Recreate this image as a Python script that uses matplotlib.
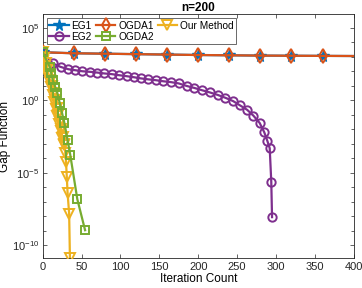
import numpy as np
import matplotlib
matplotlib.use('Agg')
import matplotlib.pyplot as plt

plt.rcParams['font.family'] = ['Liberation Sans', 'DejaVu Sans']

# --- data (log10 of gap function) ---
eg1_iter = [0, 40, 80, 120, 160, 200, 240, 280, 320, 360, 400]
eg1_log = [3.32, 3.25, 3.22, 3.19, 3.16, 3.13, 3.11, 3.09, 3.08, 3.07, 3.06]

ogda1_iter = [0, 40, 80, 120, 160, 200, 240, 280, 320, 360, 400]
ogda1_log = [3.32, 3.25, 3.22, 3.19, 3.16, 3.13, 3.11, 3.09, 3.08, 3.07, 3.06]

eg2_iter = [0, 13, 23, 33, 42, 51, 61, 70, 79, 89, 98, 108, 117, 126, 136,
            146, 155, 165, 175, 185, 195, 205, 215, 225, 235, 245, 254, 263,
            271, 279, 285, 289, 292, 294, 295]
eg2_log = [3.32, 2.55, 2.31, 2.15, 2.08, 2.01, 1.97, 1.92, 1.86, 1.81, 1.74,
           1.67, 1.60, 1.52, 1.45, 1.39, 1.32, 1.26, 1.17, 1.00, 0.86, 0.70,
           0.55, 0.38, 0.18, -0.05, -0.35, -0.65, -1.05, -1.55, -2.2, -2.8,
           -3.3, -5.6, -8.05]

ogda2_iter = [0, 9, 11, 13, 16, 19, 22, 25, 28, 32, 35.5, 44.5, 54.5]
ogda2_log = [3.32, 2.31, 1.86, 1.39, 0.93, 0.48, -0.21, -0.9, -1.59, -2.74,
             -3.78, -6.81, -8.95]

ours_iter = [0, 1, 2, 3, 4, 5, 6, 7, 8, 9, 10, 11, 12, 13, 14, 15, 16, 17,
             18, 19, 20, 21, 22, 23, 24, 25, 26, 27, 28, 29, 30, 31, 32, 34, 35]
ours_log = [3.32, 2.7, 2.9, 2.4, 2.6, 2.1, 2.2, 1.7, 1.8, 1.3, 1.4, 0.9, 1.0,
            0.4, 0.5, -0.1, 0.0, -0.6, -0.5, -1.1, -1.0, -1.6, -1.5, -2.1,
            -2.0, -2.6, -2.5, -3.1, -3.0, -3.6, -4.25, -5.3, -6.4, -7.8, -10.85]

fig = plt.figure(figsize=(3.62, 2.88), dpi=100)
ax = fig.add_axes([0.118, 0.104, 0.859, 0.847])

lw = 1.6
ms = 6
mew = 1.4

h_eg1, = ax.plot(eg1_iter, 10.0 ** np.array(eg1_log), '-*', color='#0072BD', lw=lw,
                 ms=ms + 2.5, mew=1.0, markevery=list(range(10)), label='EG1', zorder=3)
h_eg2, = ax.plot(eg2_iter, 10.0 ** np.array(eg2_log), '-o', color='#7E2F8E', lw=lw,
                 ms=ms, mew=mew, mfc='none', label='EG2', zorder=4)
h_ogda1, = ax.plot(ogda1_iter, 10.0 ** np.array(ogda1_log), '-d', color='#D95319', lw=lw,
                   ms=ms + 1, mew=mew, mfc='none', markevery=list(range(10)), label='OGDA1', zorder=3.5)
h_ours, = ax.plot(ours_iter, 10.0 ** np.array(ours_log), '-v', color='#EDB120', lw=lw,
                  ms=ms + 1.5, mew=mew, mfc='none', label='Our Method', zorder=4.5)
h_ogda2, = ax.plot(ogda2_iter, 10.0 ** np.array(ogda2_log), '-s', color='#77AC30', lw=lw,
                   ms=ms, mew=mew, mfc='none', label='OGDA2', zorder=5)

ax.set_yscale('log')
ax.set_xlim(0, 400)
ax.set_ylim(10 ** -10.87, 10 ** 5.95)
ax.set_xticks(range(0, 401, 50))
ax.set_yticks([1e-10, 1e-5, 1e0, 1e5])
ax.yaxis.set_minor_locator(matplotlib.ticker.LogLocator(base=10, subs=[1.0], numticks=30))
ax.yaxis.set_minor_formatter(matplotlib.ticker.NullFormatter())

edge = '#262626'
for s in ax.spines.values():
    s.set_color(edge)
    s.set_linewidth(0.6)
ax.tick_params(which='both', direction='in', top=True, right=True, colors=edge,
               labelcolor='#262626', labelsize=8, width=0.5, pad=2.5)
ax.tick_params(which='major', length=3)
ax.tick_params(which='minor', length=2)

ax.set_xlabel('Iteration Count', fontsize=8.5, labelpad=1)
ax.set_ylabel('Gap Function', fontsize=8.5, labelpad=1)
ax.set_title('n=200', fontsize=8.5, fontweight='bold', pad=2)

leg = ax.legend(handles=[h_eg1, h_eg2, h_ogda1, h_ogda2, h_ours], ncol=3,
                loc='upper left', fontsize=7.3, frameon=True, fancybox=False,
                borderpad=0.25, handlelength=1.9, handletextpad=0.3,
                columnspacing=0.4, labelspacing=0.1, borderaxespad=0.4)
leg.get_frame().set_edgecolor(edge)
leg.get_frame().set_linewidth(0.6)

fig.savefig('out.png', dpi=100)
